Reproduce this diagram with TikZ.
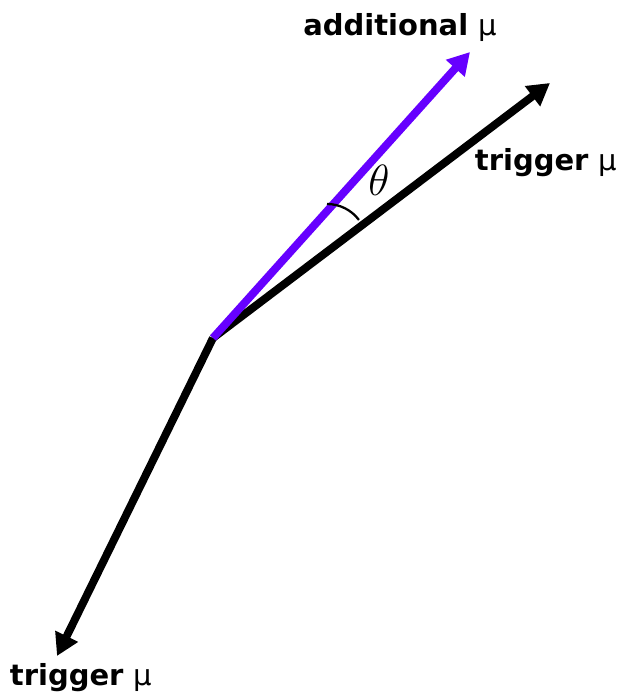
\documentclass[tikz,border=0pt]{standalone}
\usepackage{fontspec}
\newfontfamily\labelfont{DejaVu Sans}
\usepackage{tikz}
\usetikzlibrary{arrows.meta, positioning, calc}
\definecolor{muviolet}{RGB}{102,0,255}
\newcommand{\muon}{{\fontseries{m}\selectfont μ}}

\begin{document}
\begin{tikzpicture}[
  trk/.style={line width=4.5pt, -{Triangle[length=0.44cm, width=0.48cm]}},
  addtrk/.style={trk, draw=muviolet, fill=muviolet},
  lbl/.style={font=\labelfont\bfseries\fontsize{16.5}{18}\selectfont, inner sep=0pt},
  ang/.style={line width=1.3pt}
]
\useasboundingbox (0,0) rectangle (12.38,13.96);
\coordinate (vtx) at (4.26,7.20);
\coordinate (addtip) at (9.40,12.92);
\coordinate (trigtip) at (11.00,12.30);
\coordinate (lowtip) at (1.14,0.84);
\draw[trk] (vtx) -- (lowtip);
\draw[trk] (vtx) -- (trigtip);
\draw[addtrk] (vtx) -- (addtip);
% opening angle between the two muons
\coordinate (angstart) at (6.54,9.88);
\draw[ang] (angstart) arc[start angle=90, end angle=37, radius=0.8];
\node[font=\fontsize{30}{30}\selectfont] (theta) at (7.58,10.36) {$\theta$};
\node[lbl] (addlbl) at (8.00,13.40) {additional \muon};
\node[lbl] (triglbl) at (10.92,10.70) {trigger \muon};
\node[lbl] (lowlbl) at (1.62,0.40) {trigger \muon};
\end{tikzpicture}
\end{document}
